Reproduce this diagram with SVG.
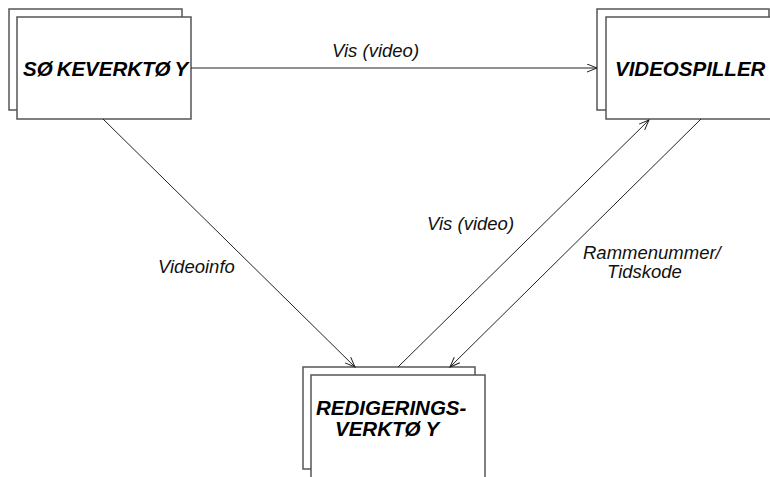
<svg xmlns="http://www.w3.org/2000/svg" width="770" height="477" viewBox="0 0 770 477">
<defs>
<marker id="arr" markerWidth="12" markerHeight="10" refX="11" refY="4.5" orient="auto" markerUnits="userSpaceOnUse">
<path d="M1,0.5 L11,4.5 L1,8.5" fill="none" stroke="#222" stroke-width="1"/>
</marker>
<style>
.box{fill:#fff;stroke:#555;stroke-width:1.5}
.title{font-family:"Liberation Sans",Arial,sans-serif;font-weight:bold;font-style:italic;font-size:20.5px;fill:#000}
.lbl{font-family:"Liberation Sans",Arial,sans-serif;font-style:italic;font-size:18.5px;fill:#111}
.con{stroke:#222;stroke-width:1;fill:none;marker-end:url(#arr)}
</style>
</defs>
<rect width="770" height="477" fill="#fff"/>
<g id="sokeverktoy">
<rect class="box" x="9" y="9" width="173" height="101"/>
<rect class="box" x="17" y="17" width="174" height="102"/>
<text class="title" x="23" y="76">SØ<tspan dx="4">KEVERKTØ</tspan><tspan dx="4">Y</tspan></text>
</g>
<g id="videospiller">
<rect class="box" x="597" y="9" width="172" height="101"/>
<rect class="box" x="606" y="17" width="180" height="102"/>
<text class="title" x="615" y="76">VIDEOSPILLER</text>
</g>
<g id="redigeringsverktoy">
<rect class="box" x="303" y="367" width="172" height="102"/>
<rect class="box" x="311" y="375" width="174" height="110"/>
<text class="title" x="316" y="415">REDIGERINGS-</text>
<text class="title" x="335" y="436">VERKTØ<tspan dx="5">Y</tspan></text>
</g>
<g id="connectors">
<line class="con" x1="191" y1="68" x2="597" y2="68"/>
<line class="con" x1="103" y1="119" x2="355" y2="367"/>
<line class="con" x1="398" y1="367" x2="649" y2="120"/>
<line class="con" x1="701" y1="119" x2="450" y2="367"/>
<text class="lbl" x="332" y="57">Vis (video)</text>
<text class="lbl" x="158" y="273">Videoinfo</text>
<text class="lbl" x="427" y="230">Vis (video)</text>
<text class="lbl" x="583" y="259">Rammenummer/</text>
<text class="lbl" x="607" y="278">Tidskode</text>
</g>
</svg>
